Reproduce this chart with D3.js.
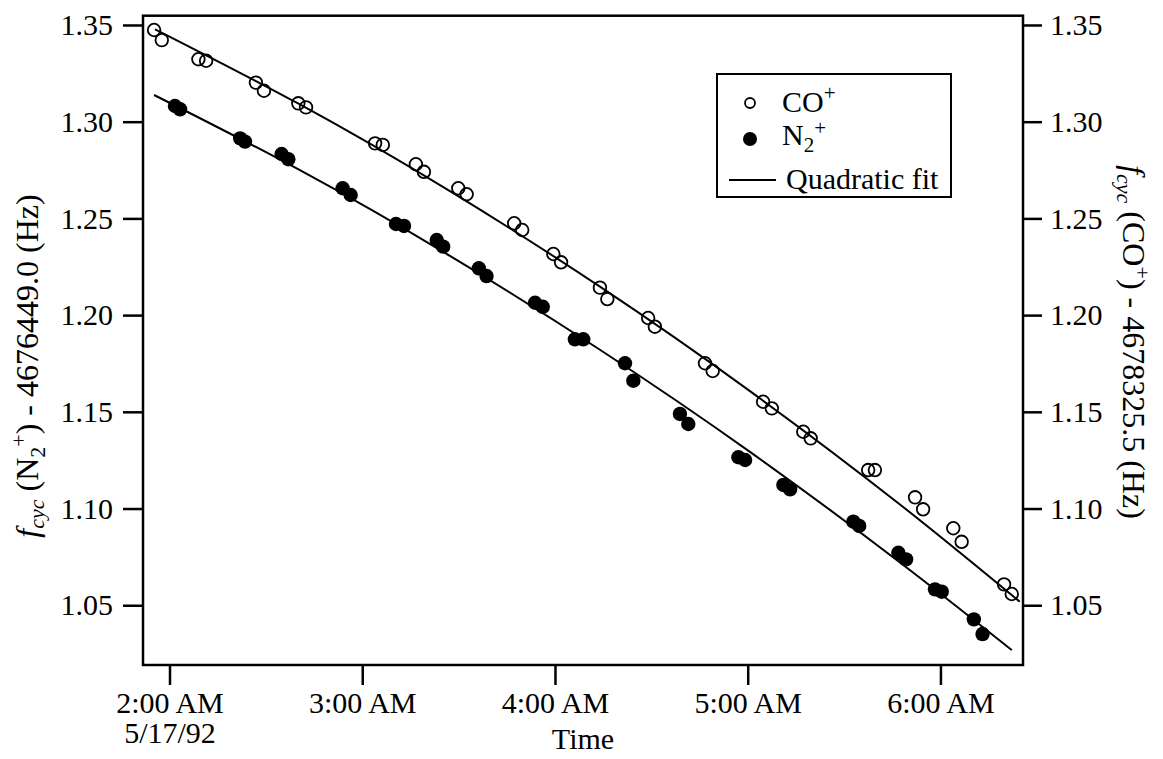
<!DOCTYPE html>
<html>
<head>
<meta charset="utf-8">
<script src="https://cdn.jsdelivr.net/npm/d3@7"></script>
<style>
  body { margin: 0; background: #fff; }
  svg text { font-family: "Liberation Serif", "Times New Roman", serif; fill: #000; }
</style>
</head>
<body>
<div id="vis"></div>
<script>
// times are minutes after midnight, 5/17/92
const coTime = [115.2, 117.6, 129.0, 131.4, 146.9, 149.4, 160.1, 162.5, 184.0, 186.4,
  196.7, 199.2, 209.9, 212.5, 227.3, 229.8, 239.5, 241.9, 254.0, 256.3,
  269.0, 271.1, 286.7, 289.1, 304.8, 307.5, 317.3, 319.6, 337.5, 339.6,
  352.1, 354.6, 364.0, 366.6, 379.8, 382.2]
const coValue = [1.3474, 1.3422, 1.3323, 1.3315, 1.3202, 1.3160, 1.3095, 1.3074, 1.2888, 1.2880,
  1.2780, 1.2741, 1.2656, 1.2625, 1.2475, 1.2440, 1.2316, 1.2273, 1.2142, 1.2083,
  1.1985, 1.1940, 1.1751, 1.1711, 1.1552, 1.1518, 1.1397, 1.1363, 1.1199, 1.1199,
  1.1058, 1.0996, 1.0898, 1.0828, 1.0608, 1.0558]

const n2Time = [121.7, 123.3, 142.0, 143.5, 154.9, 157.0, 173.9, 176.4, 190.5, 193.0,
  203.2, 205.2, 216.3, 218.7, 233.8, 236.2, 246.2, 248.8, 261.8, 264.4,
  278.9, 281.5, 297.1, 299.2, 311.1, 313.2, 332.9, 334.7, 346.9, 349.3,
  358.3, 360.4, 370.4, 373.1]
const n2Value = [1.3081, 1.3064, 1.2914, 1.2897, 1.2833, 1.2806, 1.2656, 1.2621, 1.2471, 1.2461,
  1.2388, 1.2354, 1.2242, 1.2202, 1.2064, 1.2043, 1.1875, 1.1875, 1.1751, 1.1661,
  1.1489, 1.1437, 1.1265, 1.1251, 1.1122, 1.1099, 1.0932, 1.0910, 1.0771, 1.0737,
  1.0582, 1.0570, 1.0427, 1.0351]

// quadratic fit curves
const coFitTime = [115.5, 160.6, 207.3, 254.0, 300.7, 347.4, 384.7]
const coFitValue = [1.3478, 1.3089, 1.2641, 1.2147, 1.1607, 1.1021, 1.0518]
const n2FitTime = [115.2, 160.6, 207.3, 254.0, 300.7, 347.4, 382.2]
const n2FitValue = [1.3138, 1.2749, 1.2306, 1.1821, 1.1293, 1.0721, 1.0268]

const yTicks = [1.05, 1.10, 1.15, 1.20, 1.25, 1.30, 1.35]
const xTickHours = [2, 3, 4, 5, 6]
const xDomainMinutes = [111.75, 385.7]
const yDomain = [1.0191, 1.3548]

const margin = { left: 143, top: 15.7, right: 140, bottom: 94 }
const width = 1163 - margin.left - margin.right
const height = 759 - margin.top - margin.bottom

const day = new Date(1992, 4, 17)
const toDate = m => new Date(day.getTime() + m * 60000)

const svg = d3.select('#vis').append('svg')
  .attr('width', 1163)
  .attr('height', 759)

const g = svg.append('g').attr('transform', `translate(${margin.left},${margin.top})`)

const x = d3.scaleTime().domain(xDomainMinutes.map(toDate)).range([0, width])
const y = d3.scaleLinear().domain(yDomain).range([height, 0])
// right axis has its own offset but the same spacing
const yRight = d3.scaleLinear().domain(yDomain).range([height, 0])

function styleAxis(sel) {
  sel.select('.domain').remove()
  sel.selectAll('.tick line').attr('stroke', '#000').attr('stroke-width', 2.5)
  sel.selectAll('.tick text').attr('font-size', 30).attr('font-family', null)
  sel.attr('font-family', null).attr('font-size', null)
}

g.append('g')
  .call(d3.axisLeft(y).tickValues(yTicks).tickFormat(d3.format('.2f')).tickSize(20).tickPadding(10))
  .call(styleAxis)

g.append('g')
  .attr('transform', `translate(${width},0)`)
  .call(d3.axisRight(yRight).tickValues(yTicks).tickFormat(d3.format('.2f')).tickSize(19).tickPadding(8))
  .call(styleAxis)

const xAxis = g.append('g')
  .attr('transform', `translate(0,${height})`)
  .call(d3.axisBottom(x)
    .tickValues(xTickHours.map(h => toDate(h * 60)))
    .tickFormat(d3.timeFormat('%-I:%M %p'))
    .tickSize(20).tickPadding(7))
  .call(styleAxis)

// date under the first tick
xAxis.select('.tick')
  .append('text')
  .attr('y', 743 - margin.top - height)
  .attr('text-anchor', 'middle')
  .attr('font-size', 30)
  .text('5/17/92')

// frame
g.append('rect')
  .attr('width', width).attr('height', height)
  .attr('fill', 'none').attr('stroke', '#000').attr('stroke-width', 2.5)

// fit lines
const line = d3.line()
  .x(d => x(toDate(d[0])))
  .y(d => y(d[1]))
  .curve(d3.curveNatural)
const lineR = d3.line()
  .x(d => x(toDate(d[0])))
  .y(d => yRight(d[1]))
  .curve(d3.curveNatural)

g.append('path')
  .datum(d3.zip(n2FitTime, n2FitValue))
  .attr('d', line)
  .attr('fill', 'none').attr('stroke', '#000').attr('stroke-width', 2)

g.append('path')
  .datum(d3.zip(coFitTime, coFitValue))
  .attr('d', lineR)
  .attr('fill', 'none').attr('stroke', '#000').attr('stroke-width', 2)

// points
g.selectAll('.n2')
  .data(d3.zip(n2Time, n2Value))
  .enter().append('circle')
  .attr('class', 'n2')
  .attr('cx', d => x(toDate(d[0])))
  .attr('cy', d => y(d[1]))
  .attr('r', 7.2)
  .attr('fill', '#000')

g.selectAll('.co')
  .data(d3.zip(coTime, coValue))
  .enter().append('circle')
  .attr('class', 'co')
  .attr('cx', d => x(toDate(d[0])))
  .attr('cy', d => yRight(d[1]))
  .attr('r', 6.3)
  .attr('fill', 'none')
  .attr('stroke', '#000')
  .attr('stroke-width', 1.8)

// axis titles
g.append('text')
  .attr('x', width / 2)
  .attr('y', 749 - margin.top)
  .attr('text-anchor', 'middle')
  .attr('font-size', 30)
  .text('Time')

function titleText(sel, species, offset) {
  sel.append('tspan').attr('font-style', 'italic').text('f')
  sel.append('tspan').attr('font-style', 'italic').attr('font-size', 22).attr('dy', 6).text('cyc')
  if (species === 'N2') {
    sel.append('tspan').attr('dy', -6).text(' (N')
    sel.append('tspan').attr('font-size', 22).attr('dy', 7).text('2')
    sel.append('tspan').attr('font-size', 22).attr('dy', -19).text('+')
    sel.append('tspan').attr('dy', 12).text(') - ' + offset + ' (Hz)')
  } else {
    sel.append('tspan').attr('dy', -6).text(' (CO')
    sel.append('tspan').attr('font-size', 22).attr('dy', -12).text('+')
    sel.append('tspan').attr('dy', 12).text(') - ' + offset + ' (Hz)')
  }
}

svg.append('text')
  .attr('transform', 'translate(38,366) rotate(-90)')
  .attr('text-anchor', 'middle')
  .attr('font-size', 32)
  .call(titleText, 'N2', '4676449.0')

svg.append('text')
  .attr('transform', 'translate(1123,342) rotate(90)')
  .attr('text-anchor', 'middle')
  .attr('font-size', 32)
  .call(titleText, 'CO', '4678325.5')

// legend
const legend = svg.append('g').attr('transform', 'translate(717,74)')
legend.append('rect')
  .attr('width', 234).attr('height', 123)
  .attr('fill', '#fff').attr('stroke', '#000').attr('stroke-width', 2)
legend.append('circle').attr('cx', 33).attr('cy', 29).attr('r', 5)
  .attr('fill', 'none').attr('stroke', '#000').attr('stroke-width', 1.8)
legend.append('circle').attr('cx', 33).attr('cy', 65).attr('r', 7)
  .attr('fill', '#000')
legend.append('line').attr('x1', 12).attr('x2', 59).attr('y1', 106).attr('y2', 106)
  .attr('stroke', '#000').attr('stroke-width', 2)

const t1 = legend.append('text').attr('x', 65).attr('y', 38).attr('font-size', 30)
t1.append('tspan').text('CO')
t1.append('tspan').attr('font-size', 21).attr('dy', -12).text('+')

const t2 = legend.append('text').attr('x', 65).attr('y', 71).attr('font-size', 30)
t2.append('tspan').text('N')
t2.append('tspan').attr('font-size', 21).attr('dy', 7).text('2')
t2.append('tspan').attr('font-size', 21).attr('dy', -17).text('+')

legend.append('text').attr('x', 69).attr('y', 115).attr('font-size', 30).text('Quadratic fit')
</script>
</body>
</html>
